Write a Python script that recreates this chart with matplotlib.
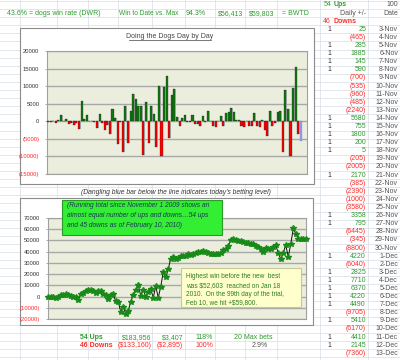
import numpy as np
import matplotlib.pyplot as plt
from matplotlib.patches import Rectangle

plt.rcParams['font.family'] = ['Liberation Sans', 'DejaVu Sans']

# --- data ---
dates = [f'{d}-Nov' for d in range(3, 31)] + [f'{d}-Dec' for d in range(1, 14)]
daily_table = [25, -465, 285, 1885, 145, 590, -700, -535, -960, -485, -2240,
               5680, 755, 1800, 200, 5, -205, -2005, 2170, -385, -2390, -1000,
               -3580, 3358, 795, -6445, -345, -8800, 4220, -6040, 2825, 7710,
               6370, 4220, 4490, -9705, 5410, -6170, 4410, 2145, -7360]

# bar chart: first two days of November, the table above, then the rest up to today
nov_start = [-300, -150]
daily_later = [10000, -10000, 9700, 13000, -4800, 7400, 9300, 1100, -1400, 900,
               1900, -200, -200, 1700, -900, -900, -1300, 1600, -300, 3000, 200,
               -1400, -1700, 100, 1600, -1200, 2400, 2600, 3800, 2600, 500, 300,
               -1200, -1700, 200, -1200, -1200, 2300, -1200, -1600, 300, -2500,
               -4300, 3000, -1400, -600, 2600, 3000, -8800, 8900, 3600, -10000,
               9500, 15500, -3600]
today_bet = -5500

running_total = [-300, -450, -425, -890, -600, 1280, 1425, 2015, 1315, 780, -180,
                 -665, -2905, 2775, 3530, 5330, 5530, 5535, 5330, 3325, 5495,
                 5110, 2720, 1720, -1860, 1500, 2290, -4150, -4500, -13300, -9080,
                 -15120, -12290, -4580, 1790, 6010, 10500, 790, 6200, 30, 4440,
                 6590, -770, 9230, -770, 8930, 21930, 17130, 24530, 33830, 34930,
                 33530, 34430, 36330, 36130, 35930, 37630, 37300, 38000, 38500,
                 39500, 40000, 40200, 39800, 38500, 38000, 37500, 38200, 37800,
                 39000, 41500, 42200, 45000, 50500, 51500, 50500, 49500, 49000,
                 48800, 48000, 47800, 47000, 46800, 45000, 44000, 42000, 40000,
                 43000, 42500, 42000, 44000, 45500, 39000, 33000, 39000, 45500,
                 35500, 46500, 60500, 56000, 51000, 51000, 51000, 51000]

bar_ticks = [20000, 15000, 10000, 5000, 0, -5000, -10000, -15000]
line_ticks = [70000, 60000, 50000, 40000, 30000, 20000, 10000, 0, -10000, -20000]

GREEN_TXT = '#2f9a2f'
RED_TXT = '#ff2a2a'
GRAY_TXT = '#555555'

W, H = 400, 360
fig = plt.figure(figsize=(W / 100, H / 100), dpi=100)

def fx(x):
    return x / W

def fy(y):
    return 1 - y / H

# sheet background in pixel coords
bg = fig.add_axes([0, 0, 1, 1])
bg.set_xlim(0, W)
bg.set_ylim(H, 0)
bg.axis('off')

row_h = 8.1
def row_y(k):
    return 5 + row_h * k

for k in range(46):
    bg.axhline(row_y(k) - row_h / 2, color='#dde2ea', lw=0.6, zorder=0)
for x in [20, 57, 88, 118, 152, 185, 215, 245, 277, 320, 368]:
    bg.axvline(x, color='#dde2ea', lw=0.6, zorder=0)

fs = 5.0
# header row
bg.text(7, row_y(1), '43.6% = dogs win rate (DWR)', color=GREEN_TXT, fontsize=fs, va='center')
bg.text(119, row_y(1), 'Win to Date vs. Max', color=GREEN_TXT, fontsize=4.8, va='center')
bg.text(206, row_y(1), '94.3%', color=GREEN_TXT, fontsize=fs, va='center', ha='right')
bg.text(243, row_y(1), '$56,413', color=GREEN_TXT, fontsize=fs, va='center', ha='right')
bg.text(274, row_y(1), '$59,803', color=GREEN_TXT, fontsize=fs, va='center', ha='right')
bg.text(282, row_y(1), '= BWTD', color=GREEN_TXT, fontsize=fs, va='center')

# right-hand table
bg.text(331, row_y(0), '54', color=GREEN_TXT, fontsize=fs, va='center', ha='right')
bg.text(334, row_y(0), 'Ups', color=GREEN_TXT, fontsize=fs, va='center', fontweight='bold')
bg.text(398, row_y(0), '100', color=GRAY_TXT, fontsize=fs, va='center', ha='right')
bg.text(366, row_y(1), 'Daily +/-', color=GRAY_TXT, fontsize=fs, va='center', ha='right')
bg.text(398, row_y(1), 'Date', color=GRAY_TXT, fontsize=fs, va='center', ha='right')
bg.text(331, row_y(2), '46', color=RED_TXT, fontsize=fs, va='center', ha='right')
bg.text(334, row_y(2), 'Downs', color=RED_TXT, fontsize=fs, va='center', fontweight='bold')

for i, (d, v) in enumerate(zip(dates, daily_table)):
    y = row_y(3 + i)
    if v > 0:
        bg.text(331, y, '1', color='#333333', fontsize=fs, va='center', ha='right')
        bg.text(366, y, f'{v}', color=GREEN_TXT, fontsize=fs, va='center', ha='right')
    else:
        bg.text(366, y, f'({-v})', color=RED_TXT, fontsize=fs, va='center', ha='right')
    bg.text(398, y, d, color=GRAY_TXT, fontsize=fs, va='center', ha='right')

# bottom summary rows
y1, y2 = row_y(41), row_y(42)
bg.text(80, y1, '54 Ups', color=GREEN_TXT, fontsize=fs, va='center', fontweight='bold')
bg.text(151, y1, '$183,956', color=GREEN_TXT, fontsize=fs, va='center', ha='right')
bg.text(183, y1, '$3,407', color=GREEN_TXT, fontsize=fs, va='center', ha='right')
bg.text(213, y1, '118%', color=GREEN_TXT, fontsize=fs, va='center', ha='right')
bg.text(273, y1, '20 Max bets', color=GREEN_TXT, fontsize=fs, va='center', ha='right')
bg.text(80, y2, '46 Downs', color=RED_TXT, fontsize=fs, va='center', fontweight='bold')
bg.text(152, y2, '($133,160)', color=RED_TXT, fontsize=fs, va='center', ha='right')
bg.text(183, y2, '($2,895)', color=RED_TXT, fontsize=fs, va='center', ha='right')
bg.text(213, y2, '100%', color=RED_TXT, fontsize=fs, va='center', ha='right')
bg.text(268, y2, '2.9%', color=GRAY_TXT, fontsize=fs, va='center', ha='right')

# chart boxes
bg.add_patch(Rectangle((20, 28), 294, 156, facecolor='white', edgecolor='#8c8c8c', lw=0.8, zorder=2))
bg.add_patch(Rectangle((20, 198), 293, 127, facecolor='white', edgecolor='#8c8c8c', lw=0.8, zorder=2))
bg.text(170, 36, 'Doing the Dogs Day by Day', color='#444444', fontsize=5, ha='center', va='center', zorder=3)
bg.plot([129, 211], [39.5, 39.5], color='#444444', lw=0.5, zorder=3)
bg.text(176, 192.5, "(Dangling blue bar below the line indicates today's betting level)",
        color='#333333', fontsize=4.9, style='italic', ha='center', va='center', zorder=3)

def money_labels(ax, ticks):
    ax.set_yticks(ticks)
    labels = [f'{t}' if t >= 0 else f'({-t})' for t in ticks]
    ax.set_yticklabels(labels)
    for lab, t in zip(ax.get_yticklabels(), ticks):
        lab.set_color(RED_TXT if t < 0 else '#333333')

# --- top chart: daily +/- bars ---
ax1 = fig.add_axes([fx(47), fy(174), 260 / W, (174 - 51) / H], zorder=3)
ax1.set_facecolor('#eceedd')
bars = nov_start + daily_table + daily_later
x = np.arange(len(bars))
colors = ['#0e7a0e' if v > 0 else '#ff0000' for v in bars]
ax1.bar(x + 0.25, bars, width=0.8, color='#b4b4b4', zorder=2)
ax1.bar(x, bars, width=0.8, color=colors, edgecolor='#1a1a1a', lw=0.2, zorder=3)
xb = len(bars)
ax1.bar(xb + 0.25, today_bet, width=0.8, color='#b4b4b4', zorder=2)
ax1.bar(xb, today_bet, width=0.8, color='#9c9cf0', edgecolor='#6f6fc0', lw=0.2, zorder=3)
ax1.set_xlim(-0.4, 100.4)
ax1.set_ylim(-15000, 20000)
money_labels(ax1, bar_ticks)
ax1.set_xticks([])
ax1.grid(axis='y', color='#a8a8a8', lw=1.0, zorder=1)
ax1.tick_params(axis='y', length=1.5, width=0.5, color='#888888', labelsize=4.2, pad=4)
for s in ax1.spines.values():
    s.set_color('#a0a0a0')
    s.set_linewidth(0.8)

# --- bottom chart: running total ---
ax2 = fig.add_axes([fx(48), fy(319.3), 258 / W, (319.3 - 217.7) / H], zorder=3)
ax2.set_facecolor('#eceedd')
ax2.plot(np.arange(len(running_total)), running_total, color='#111111', lw=0.7,
         marker='*', ms=4, mfc='#178a17', mec='#178a17', zorder=3, clip_on=False)
ax2.set_xlim(-0.1, len(running_total) - 0.9)
ax2.set_ylim(-20000, 70000)
money_labels(ax2, line_ticks)
ax2.set_xticks([])
ax2.grid(axis='y', color='#a8a8a8', lw=1.0, zorder=1)
ax2.tick_params(axis='y', length=1.5, width=0.5, color='#888888', labelsize=4.2, pad=4)
for s in ax2.spines.values():
    s.set_color('#a0a0a0')
    s.set_linewidth(0.8)

# callouts on top
ov = fig.add_axes([0, 0, 1, 1], zorder=6)
ov.set_xlim(0, W)
ov.set_ylim(H, 0)
ov.axis('off')
ov.patch.set_alpha(0)
ov.add_patch(Rectangle((62, 200), 160, 35, facecolor='#33ee33', edgecolor='#2a9a2a', lw=0.8))
for y, t in zip([205.5, 215.5, 225.5],
                ['(Running total since November 1 2009 shows an',
                 'almost equal number of ups and downs\u202654 ups',
                 'and 45 downs as of February 10, 2010)']):
    ov.text(67, y, t, color='#1d3658', fontsize=4.8, style='italic', va='center')

ov.add_patch(Rectangle((181, 268), 120, 39, facecolor='#ffffcc', edgecolor='#c8c896', lw=0.8))
for y, t in zip([276.5, 285.5, 294.5, 303],
                ['Highest win before the new  best',
                 'was $52,603  reached on Jan 18',
                 '2010.  On the 99th day of the trial,',
                 'Feb 10, we hit +$59,800.']):
    ov.text(186, y, t, color='#2e7d1f', fontsize=4.7, va='center')

fig.savefig('out.png', dpi=100)
